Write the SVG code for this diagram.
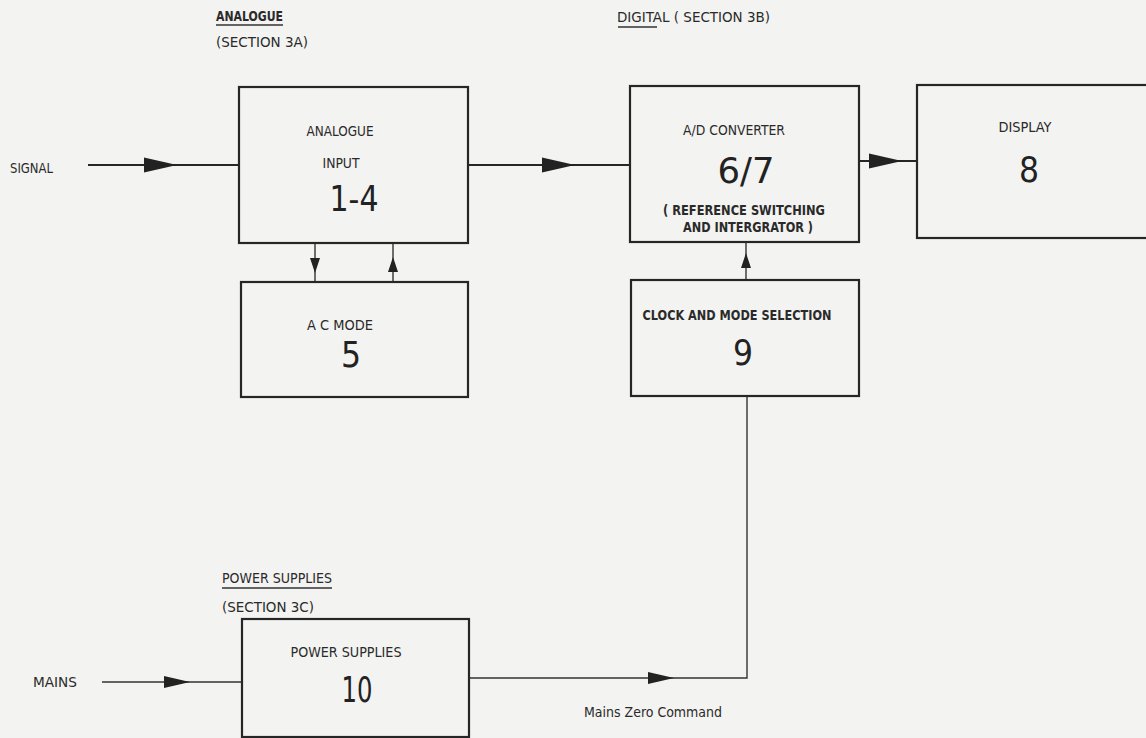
<svg xmlns="http://www.w3.org/2000/svg" xmlns:xlink="http://www.w3.org/1999/xlink" width="1146" height="738" viewBox="0 0 1146 738">
<style>
.bg{fill:#f3f3f1}
.box{fill:none;stroke:#262626;stroke-width:2.2}
.ln{fill:none;stroke:#262626;stroke-width:2}
.ln2{fill:none;stroke:#333;stroke-width:1.4}
.ah{fill:#222}
.t{font-family:"DejaVu Sans Condensed","DejaVu Sans",sans-serif;fill:#2a2a2a;font-size:14px}
.b{font-weight:bold}
.big{font-family:"DejaVu Sans Condensed","DejaVu Sans",sans-serif;fill:#222;font-size:35px}
.mid{text-anchor:middle}
</style>
<defs>
<path id="ahR" d="M0,0 L-33,-7.5 L-33,7.5 Z"/>
<path id="ahS" d="M0,0 L-26,-6 L-26,6 Z"/>
<path id="ahV" d="M0,0 L-15,-5 L-15,5 Z"/>
</defs>
<rect class="bg" x="0" y="0" width="1146" height="738"/>

<g id="section-labels">
<text class="t b" x="216" y="21" textLength="67" lengthAdjust="spacingAndGlyphs">ANALOGUE</text>
<line class="ln2" x1="216" y1="25" x2="283" y2="25"/>
<text class="t" x="216" y="47" textLength="92" lengthAdjust="spacingAndGlyphs">(SECTION 3A)</text>
<text class="t" x="617" y="22" textLength="153" lengthAdjust="spacingAndGlyphs">DIGITAL ( SECTION 3B)</text>
<line class="ln2" x1="618" y1="27" x2="657" y2="27"/>
<text class="t" x="222" y="583" textLength="110" lengthAdjust="spacingAndGlyphs">POWER SUPPLIES</text>
<line class="ln2" x1="222" y1="588" x2="332" y2="588"/>
<text class="t" x="222" y="612" textLength="92" lengthAdjust="spacingAndGlyphs">(SECTION 3C)</text>
<text class="t" x="10" y="173" textLength="43" lengthAdjust="spacingAndGlyphs">SIGNAL</text>
<text class="t" x="33" y="687" textLength="44" lengthAdjust="spacingAndGlyphs">MAINS</text>
<text class="t" x="584" y="717" textLength="138" lengthAdjust="spacingAndGlyphs">Mains Zero Command</text>
</g>

<g id="connectors">
<line class="ln" x1="88" y1="165" x2="239" y2="165"/>
<use xlink:href="#ahR" href="#ahR" class="ah" transform="translate(177,165)"/>
<line class="ln" x1="468" y1="165" x2="630" y2="165"/>
<use xlink:href="#ahR" href="#ahR" class="ah" transform="translate(575,165)"/>
<line class="ln" x1="859" y1="161" x2="917" y2="161"/>
<use xlink:href="#ahR" href="#ahR" class="ah" transform="translate(902,161)"/>
<line class="ln2" x1="315" y1="243" x2="315" y2="282"/>
<use xlink:href="#ahV" href="#ahV" class="ah" transform="translate(315,273) rotate(90)"/>
<line class="ln2" x1="393" y1="243" x2="393" y2="282"/>
<use xlink:href="#ahV" href="#ahV" class="ah" transform="translate(393,257) rotate(-90)"/>
<line class="ln2" x1="746" y1="242" x2="746" y2="280"/>
<use xlink:href="#ahV" href="#ahV" class="ah" transform="translate(746,253) rotate(-90)"/>
<line class="ln2" x1="102" y1="682" x2="242" y2="682"/>
<use xlink:href="#ahS" href="#ahS" class="ah" transform="translate(190,682)"/>
<polyline class="ln2" points="469,678 747,678 747,396"/>
<use xlink:href="#ahS" href="#ahS" class="ah" transform="translate(674,678)"/>
</g>

<g id="node-analogue-input">
<rect class="box" x="239" y="87" width="229" height="156"/>
<text class="t mid" x="340" y="136" textLength="67" lengthAdjust="spacingAndGlyphs">ANALOGUE</text>
<text class="t mid" x="341" y="168" textLength="37" lengthAdjust="spacingAndGlyphs">INPUT</text>
<text class="big mid" x="354" y="211" textLength="49" lengthAdjust="spacingAndGlyphs">1-4</text>
</g>

<g id="node-ac-mode">
<rect class="box" x="241" y="282" width="227" height="115"/>
<text class="t mid" x="340" y="330" textLength="66" lengthAdjust="spacingAndGlyphs">A C  MODE</text>
<text class="big mid" x="351" y="367" font-size="34">5</text>
</g>

<g id="node-ad-converter">
<rect class="box" x="630" y="86" width="229" height="156"/>
<text class="t mid" x="734" y="135" textLength="102" lengthAdjust="spacingAndGlyphs">A/D CONVERTER</text>
<text class="big mid" x="746" y="183" font-size="34" textLength="57" lengthAdjust="spacingAndGlyphs">6/7</text>
<text class="t b mid" x="744" y="215" font-size="15" textLength="162" lengthAdjust="spacingAndGlyphs">( REFERENCE SWITCHING</text>
<text class="t b mid" x="748" y="232" font-size="15" textLength="130" lengthAdjust="spacingAndGlyphs">AND INTERGRATOR )</text>
</g>

<g id="node-display">
<rect class="box" x="917" y="85" width="233" height="153"/>
<text class="t mid" x="1025" y="132" textLength="53" lengthAdjust="spacingAndGlyphs">DISPLAY</text>
<text class="big mid" x="1029" y="182" font-size="33">8</text>
</g>

<g id="node-clock">
<rect class="box" x="631" y="280" width="228" height="116"/>
<text class="t b mid" x="737" y="320" font-size="15" textLength="189" lengthAdjust="spacingAndGlyphs">CLOCK AND MODE SELECTION</text>
<text class="big mid" x="743" y="365" font-size="36">9</text>
</g>

<g id="node-power-supplies">
<rect class="box" x="242" y="619" width="227" height="118"/>
<text class="t mid" x="346" y="657" textLength="111" lengthAdjust="spacingAndGlyphs">POWER SUPPLIES</text>
<text class="big mid" x="357" y="702" font-size="33" textLength="31" lengthAdjust="spacingAndGlyphs">10</text>
</g>
</svg>
